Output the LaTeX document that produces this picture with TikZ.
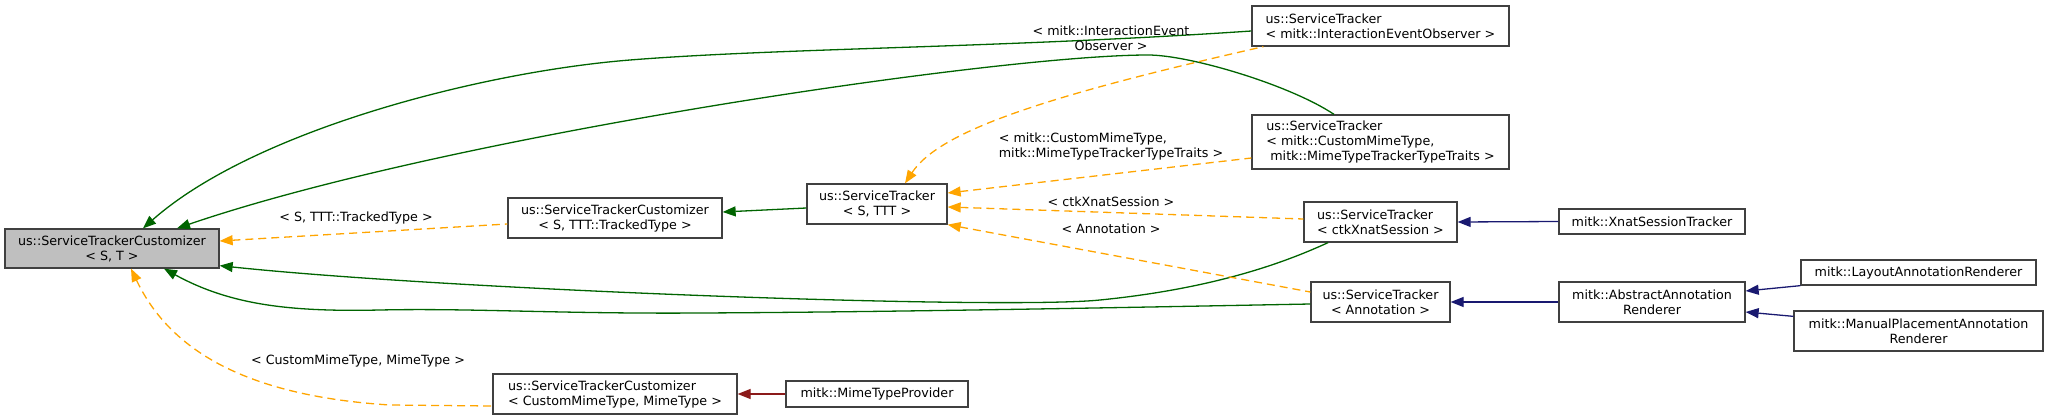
\documentclass[tikz,border=0pt]{standalone}
\usepackage{fontspec}
\setmainfont{DejaVu Sans}
\usepackage{tikz}
\usetikzlibrary{arrows.meta}
\usepackage{xcolor}
\definecolor{pubblue}{HTML}{191970}
\definecolor{protgreen}{HTML}{006400}
\definecolor{privred}{HTML}{8B1A1A}
\definecolor{tmplorange}{HTML}{FFA500}
\definecolor{boxline}{HTML}{404040}

\begin{document}
\begin{tikzpicture}[x=1pt,y=-1pt,
  >={Triangle[length=13pt,width=10pt]},
  cls/.style={draw=boxline,line width=1.3pt,fill=white,inner sep=0pt,
    font=\fontsize{12.7}{15}\selectfont,align=center},
  clsl/.style={cls,align=left},
  pubinh/.style={<-,pubblue,line width=1.3pt},
  protinh/.style={<-,protgreen,line width=1.3pt},
  privinh/.style={<-,privred,line width=1.3pt},
  tmplinst/.style={<-,tmplorange,line width=1.3pt,dash pattern=on 8pt off 5pt},
  lbl/.style={font=\fontsize{12.7}{15}\selectfont,inner sep=0pt,align=center}]
\useasboundingbox (0,0) rectangle (2048,420);
% classes
\node[cls,fill=black!25,minimum width=214pt,minimum height=39pt] (root) at (112,248.5) {us::ServiceTrackerCustomizer\\< S, T >};
\node[cls,minimum width=214pt,minimum height=40pt] (stcTracked) at (615,218) {us::ServiceTrackerCustomizer\\< S, TTT::TrackedType >};
\node[clsl,minimum width=244pt,minimum height=40pt] (stcMime) at (615,394) {us::ServiceTrackerCustomizer\\< CustomMimeType, MimeType >};
\node[cls,minimum width=182pt,minimum height=26pt] (mimeProv) at (877,394) {mitk::MimeTypeProvider};
\node[cls,minimum width=140pt,minimum height=40pt] (stST) at (877,204) {us::ServiceTracker\\< S, TTT >};
\node[clsl,minimum width=257pt,minimum height=40pt] (stIEO) at (1380.5,26) {us::ServiceTracker\\< mitk::InteractionEventObserver >};
\node[clsl,minimum width=257pt,minimum height=54pt] (stCMT) at (1380.5,142) {us::ServiceTracker\\< mitk::CustomMimeType,\\\hspace*{4pt}mitk::MimeTypeTrackerTypeTraits >};
\node[clsl,minimum width=153pt,minimum height=40pt] (stCtk) at (1380.5,222) {us::ServiceTracker\\< ctkXnatSession >};
\node[cls,minimum width=139pt,minimum height=40pt] (stAnn) at (1380.5,302) {us::ServiceTracker\\< Annotation >};
\node[cls,minimum width=186pt,minimum height=25pt] (xnat) at (1652,221.5) {mitk::XnatSessionTracker};
\node[cls,minimum width=186pt,minimum height=40pt] (absRend) at (1652,302) {mitk::AbstractAnnotation\\Renderer};
\node[cls,minimum width=235pt,minimum height=25pt] (layout) at (1918.5,272.5) {mitk::LayoutAnnotationRenderer};
\node[cls,minimum width=249pt,minimum height=40pt] (manual) at (1918.5,331) {mitk::ManualPlacementAnnotation\\Renderer};
% green edges to the root
\draw[protinh] ([xshift=31pt]root.north) .. controls (253,131) and (480,72) .. (630,60)
  .. controls (780,48) and (1000,48) .. ([yshift=-5pt]stIEO.west);
\draw[protinh] ([xshift=65pt]root.north) .. controls (450,135) and (1000,55) .. (1148,55)
  .. controls (1190,55) and (1290,85) .. ([xshift=-46.5pt]stCMT.north);
\draw[protinh] ([yshift=3pt]root.south east) .. controls (450,290) and (1000,310) .. (1100,300)
  .. controls (1220,288) and (1290,260) .. ([xshift=-52.5pt]stCtk.south);
\draw[protinh] ([xshift=52pt]root.south) .. controls (230,305) and (290,312) .. (380,310)
  .. controls (470,308) and (560,314) .. (700,313)
  .. controls (900,312) and (1150,307) .. ([yshift=-2pt]stAnn.west);
\draw[protinh] ([yshift=6pt]stcTracked.east) -- ([yshift=-4pt]stST.west);
% template instances
\draw[tmplinst] ([yshift=7.5pt]root.east) -- ([yshift=-6pt]stcTracked.west);
\draw[tmplinst] ([xshift=19pt]root.south) .. controls (165,340) and (230,395) .. (390,405)
  -- ([yshift=-12pt]stcMime.west);
\draw[tmplinst] ([xshift=28pt]stST.north) .. controls (940,130) and (1050,95) .. ([xshift=12pt]stIEO.south west);
\draw[tmplinst] ([yshift=11pt]stST.east) -- ([yshift=-16pt]stCMT.west);
\draw[tmplinst] ([yshift=-3pt]stST.east) -- ([yshift=3pt]stCtk.west);
\draw[tmplinst] (stST.south east) -- ([yshift=10pt]stAnn.west);
\node[lbl] (lTracked) at (356,218) {< S, TTT::TrackedType >};
\node[lbl] (lMime) at (358,361) {< CustomMimeType, MimeType >};
\node[lbl] (lIEO) at (1111,38) {< mitk::InteractionEvent\\Observer >};
\node[lbl,align=left] (lCMT) at (1111,146) {< mitk::CustomMimeType,\\mitk::MimeTypeTrackerTypeTraits >};
\node[lbl] (lCtk) at (1111,202) {< ctkXnatSession >};
\node[lbl] (lAnn) at (1111,229) {< Annotation >};
% public and private inheritance
\draw[pubinh] (stCtk.east) -- (xnat.west);
\draw[pubinh] (stAnn.east) -- (absRend.west);
\draw[pubinh] ([yshift=11pt]absRend.east) -- (layout.south west);
\draw[pubinh] ([yshift=-10pt]absRend.east) -- ([yshift=-6pt]manual.north west);
\draw[privinh] (stcMime.east) -- (mimeProv.west);
\end{tikzpicture}
\end{document}
